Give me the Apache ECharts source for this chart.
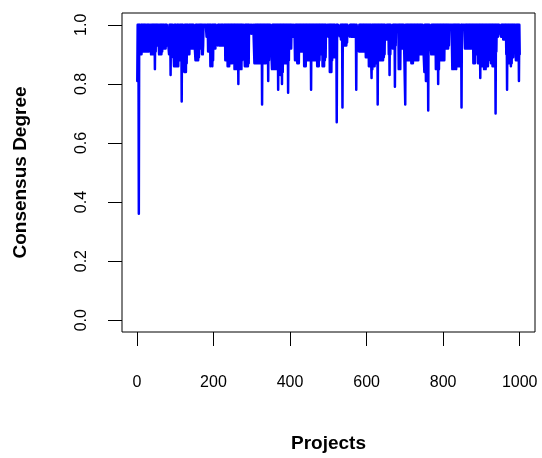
<!DOCTYPE html>
<html>
<head>
<meta charset="utf-8">
<script src="https://cdn.jsdelivr.net/npm/echarts@6/dist/echarts.min.js"></script>
<style>
html,body{margin:0;padding:0;background:#fff;}
#chart{width:542px;height:458px;}
</style>
</head>
<body>
<div id="chart"></div>
<script>
// Consensus degree per project (projects 1..1000)
const consensus = [
0.81,1,0.92,1,0.36,1,0.92,1,0.93,0.9,1,0.9,1,0.91,1,0.91,1,0.92,1,0.91,
1,0.91,1,0.93,0.91,1,0.91,1,0.92,1,0.91,1,1,0.96,1,1,0.9,1,0.9,1,
0.92,1,0.9,1,0.93,1,0.85,1,0.91,1,0.93,1,0.93,1,0.94,1,0.93,0.9,1,0.9,
1,0.92,1,0.9,1,0.91,1,0.92,1,0.92,1,0.95,0.92,1,0.92,1,0.93,1,1,1,
1,1,1,0.9,1,0.91,1,0.83,1,0.89,1,0.9,1,1,1,1,0.86,1,0.87,1,
0.86,1,0.9,0.86,1,0.87,1,0.86,1,0.9,0.88,1,0.89,1,0.88,1,0.74,1,0.88,1,
1,1,1,0.84,1,0.86,1,0.84,1,0.87,1,0.9,1,0.9,0.95,1,0.9,1,0.92,1,
0.92,1,0.93,1,0.92,1,0.92,1,1,1,1,1,0.88,1,0.89,1,0.88,1,0.9,0.88,
1,0.89,1,0.92,1,0.93,1,0.92,1,0.9,1,0.9,0.93,1,1,1,1,1,1,1,
1,0.96,1,0.96,1,0.91,1,0.91,1,0.92,1,0.86,1,0.87,0.9,1,0.86,1,0.88,1,
0.92,1,0.93,1,0.92,1,1,1,1,1,0.93,1,0.94,1,0.93,1,0.95,0.93,1,0.93,
1,0.94,1,0.93,1,0.95,0.93,1,0.94,1,0.88,1,0.89,1,0.88,1,0.86,1,0.87,1,
0.86,1,0.88,1,0.87,1,0.88,1,0.87,1,0.91,1,0.92,1,0.85,1,0.86,1,0.85,1,
0.87,1,0.85,1,0.8,1,0.86,1,0.85,1,0.86,1,0.85,1,0.88,1,1,0.96,1,1,
1,0.86,1,0.87,1,0.86,1,0.88,1,0.86,1,0.87,1,1,0.97,1,1,1,0.97,1,
1,1,0.97,1,1,1,0.87,1,0.88,1,0.87,1,0.89,1,0.87,1,0.88,1,0.87,1,
0.88,1,0.87,1,0.89,1,0.73,1,0.87,1,0.88,1,0.87,1,0.89,1,0.87,1,0.88,1,
0.9,1,0.81,1,0.88,1,0.9,1,1,1,1,1,0.85,1,0.86,1,0.85,1,0.87,1,
0.85,1,0.86,1,0.85,1,0.86,1,0.78,1,0.85,1,0.84,1,0.83,1,0.85,1,0.8,1,
0.84,1,0.87,1,0.88,1,0.87,1,0.88,1,0.87,1,0.89,1,0.77,1,0.88,1,0.92,1,
0.93,1,0.92,1,1,0.96,1,1,0.96,1,1,0.96,0.88,1,0.89,1,0.88,1,0.87,1,
0.88,1,0.87,1,0.91,1,0.92,1,0.91,1,0.93,1,0.91,1,0.92,1,0.86,1,0.87,1,
0.86,1,0.88,1,0.88,1,0.89,1,0.88,1,0.9,1,0.88,1,0.78,1,0.88,1,0.89,1,
0.88,1,0.89,1,0.88,1,0.88,1,0.89,1,0.86,1,0.87,1,0.86,1,0.88,1,0.9,1,
0.91,1,0.9,1,0.86,1,0.87,1,0.86,1,0.88,1,0.89,1,1,1,0.97,1,1,0.96,
1,0.96,1,0.84,1,0.86,1,0.84,1,0.88,1,0.89,1,0.9,1,0.89,1,1,1,0.95,
1,0.67,1,0.96,1,1,1,1,1,1,0.96,1,0.95,1,0.96,1,0.72,1,0.93,1,
0.93,1,0.94,1,0.93,1,0.93,1,0.94,1,1,1,1,1,1,0.96,1,0.97,1,0.96,
1,0.97,1,0.96,1,0.97,1,0.96,1,1,0.96,1,0.78,1,1,1,1,1,1,0.91,
1,0.91,1,0.92,1,0.91,1,0.92,1,0.91,1,0.92,1,0.91,1,0.92,1,0.89,1,0.9,
1,0.89,1,0.9,1,0.86,1,0.87,1,0.86,1,0.88,0.82,1,0.85,1,0.86,1,0.87,1,
0.86,1,0.87,1,0.89,1,0.9,1,0.73,1,0.88,1,0.89,1,0.88,1,0.89,1,0.88,1,
0.89,1,0.88,1,0.89,1,0.9,1,1,1,1,0.95,1,0.95,1,0.96,1,0.9,1,0.83,
1,0.9,1,1,1,1,1,0.92,1,0.93,1,0.92,1,0.79,1,0.93,1,1,1,1,
1,1,1,0.85,1,0.86,1,0.85,1,0.92,1,0.93,1,0.92,1,0.93,1,1,1,1,
0.73,1,0.88,1,0.89,1,0.88,1,0.89,1,0.88,1,0.89,1,0.88,1,0.87,1,0.88,1,
0.87,1,0.88,1,0.89,1,0.88,1,0.89,1,0.88,1,0.89,1,0.88,1,0.9,1,0.9,1,
0.9,1,0.91,1,0.9,1,1,1,1,1,0.84,1,0.84,1,0.81,1,0.82,1,0.9,1,
0.71,1,0.92,1,1,1,1,1,0.9,1,0.9,1,0.91,1,0.9,1,0.91,1,0.9,1,
0.85,1,0.86,1,0.85,1,0.8,1,0.85,1,0.88,1,0.89,1,0.88,1,0.89,1,0.88,1,
0.89,1,0.88,1,0.92,1,0.93,1,0.92,1,0.93,1,0.92,1,0.93,1,1,1,1,1,
1,1,1,0.85,1,0.86,1,0.85,1,0.91,1,0.86,1,0.85,1,0.87,1,0.86,1,0.87,
1,0.86,1,1,1,0.96,1,0.72,1,1,1,1,1,1,1,1,0.92,1,0.93,1,
0.92,1,0.93,1,0.92,1,0.93,1,0.92,1,0.93,1,0.92,1,0.93,1,0.92,1,0.87,1,
0.88,1,0.87,1,0.9,1,0.91,1,0.9,1,0.87,1,0.88,1,0.87,1,0.82,1,0.86,1,
0.87,1,0.86,1,0.87,1,0.85,1,0.86,1,0.85,1,0.86,1,0.87,1,0.86,1,0.88,1,
0.91,1,0.92,1,0.87,1,0.88,1,0.86,1,0.87,1,0.86,1,0.88,1,0.7,1,0.91,1,
0.96,1,0.96,1,0.97,1,1,1,1,1,0.96,1,0.96,1,0.96,1,0.95,1,0.95,1,
0.96,1,0.95,1,0.9,1,0.78,1,0.9,1,0.87,1,0.88,1,0.87,1,0.86,1,0.87,1,
0.9,1,0.89,1,0.96,1,0.96,1,1,0.88,1,0.89,1,0.88,1,0.89,1,0.81,1,0.9
];
const xTicks = [0, 200, 400, 600, 800, 1000];
const yTicks = [0, 0.2, 0.4, 0.6, 0.8, 1.0];
const xTitle = 'Projects';
const yTitle = 'Consensus Degree';

const seriesData = consensus.map((v, i) => [i + 1, v]);
const FONT = '"Liberation Sans", Arial, Helvetica, sans-serif';

const chart = echarts.init(document.getElementById('chart'), null, {renderer: 'canvas'});
chart.setOption({
  animation: false,
  backgroundColor: '#ffffff',
  grid: {
    left: 122, right: 7, top: 13, bottom: 121,
    show: true, borderColor: '#000', borderWidth: 1, backgroundColor: 'transparent',
    containLabel: false
  },
  xAxis: {
    type: 'value',
    min: -38.96, max: 1039.96,
    name: xTitle, nameLocation: 'middle', nameGap: 102,
    nameTextStyle: {fontFamily: FONT, fontSize: 19, fontWeight: 'bold', color: '#000'},
    axisLine: {show: false, onZero: false},
    splitLine: {show: false},
    axisTick: {show: true, customValues: xTicks, length: 14, inside: false, lineStyle: {color: '#000', width: 1}},
    axisLabel: {customValues: xTicks, margin: 43, fontFamily: FONT, fontSize: 16, color: '#000',
      formatter: v => String(Math.round(v))}
  },
  yAxis: {
    type: 'value',
    min: -0.04, max: 1.04,
    name: yTitle, nameLocation: 'middle', nameGap: 92, nameRotate: 90,
    nameTextStyle: {fontFamily: FONT, fontSize: 19, fontWeight: 'bold', color: '#000'},
    axisLine: {show: false, onZero: false},
    splitLine: {show: false},
    axisTick: {show: true, customValues: yTicks, length: 14, inside: false, lineStyle: {color: '#000', width: 1}},
    axisLabel: {customValues: yTicks, rotate: 90, margin: 32, fontFamily: FONT, fontSize: 16, color: '#000',
      formatter: v => v.toFixed(1)}
  },
  series: [{
    type: 'line',
    data: seriesData,
    showSymbol: false,
    symbol: 'none',
    sampling: null,
    lineStyle: {color: '#0000FF', width: 2.5, join: 'round', cap: 'round'},
    silent: true
  }]
});
</script>
</body>
</html>
